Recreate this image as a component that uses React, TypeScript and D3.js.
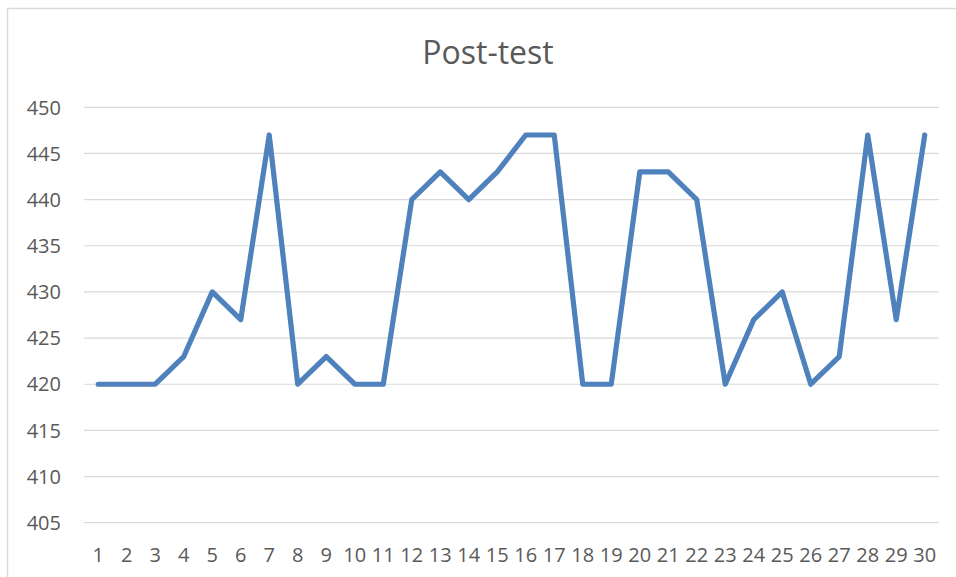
import React from "react";
import * as d3 from "d3";

const categories = Array.from({ length: 30 }, (_, i) => String(i + 1));
const postTest = [
  420, 420, 420, 423, 430, 427, 447, 420, 423, 420,
  420, 440, 443, 440, 443, 447, 447, 420, 420, 443,
  443, 440, 420, 427, 430, 420, 423, 447, 427, 447,
];
const yTicks = [405, 410, 415, 420, 425, 430, 435, 440, 445, 450];

const W = 956;
const H = 577;
const left = 84;
const right = 939;
const top = 107.3;
const bottom = 522.7;
const font = "'Open Sans', sans-serif";
const textColor = "#595959";

export default function App() {
  const x = d3.scaleBand<string>().domain(categories).range([left, right]);
  const y = d3.scaleLinear().domain([405, 450]).range([bottom, top]);

  const line = d3
    .line<number>()
    .x((_, i) => x(categories[i])! + x.bandwidth() / 2)
    .y((d) => y(d));

  return (
    <svg
      width={W}
      height={H}
      style={{ position: "absolute", left: 0, top: 0, background: "#fff" }}
    >
      {/* chart area border (only top and left visible) */}
      <line x1={7.5} y1={8.5} x2={W} y2={8.5} stroke="#d9d9d9" strokeWidth={1.5} />
      <line x1={7.5} y1={8.5} x2={7.5} y2={H} stroke="#d9d9d9" strokeWidth={1.5} />

      <text
        x={488}
        y={64}
        textAnchor="middle"
        fontFamily={font}
        fontSize={32}
        fill={textColor}
      >
        Post-test
      </text>

      {yTicks.map((t) => (
        <g key={t}>
          <line
            x1={left}
            x2={right}
            y1={y(t)}
            y2={y(t)}
            stroke="#d9d9d9"
            strokeWidth={1.2}
          />
          <text
            x={61}
            y={y(t)}
            dy="0.36em"
            textAnchor="end"
            fontFamily={font}
            fontSize={20}
            fill={textColor}
          >
            {t}
          </text>
        </g>
      ))}

      {categories.map((c) => (
        <text
          key={c}
          x={x(c)! + x.bandwidth() / 2}
          y={562}
          textAnchor="middle"
          fontFamily={font}
          fontSize={20}
          fill={textColor}
        >
          {c}
        </text>
      ))}

      <path
        d={line(postTest) ?? ""}
        fill="none"
        stroke="#4f81bd"
        strokeWidth={5.2}
        strokeLinejoin="round"
        strokeLinecap="round"
      />
    </svg>
  );
}
